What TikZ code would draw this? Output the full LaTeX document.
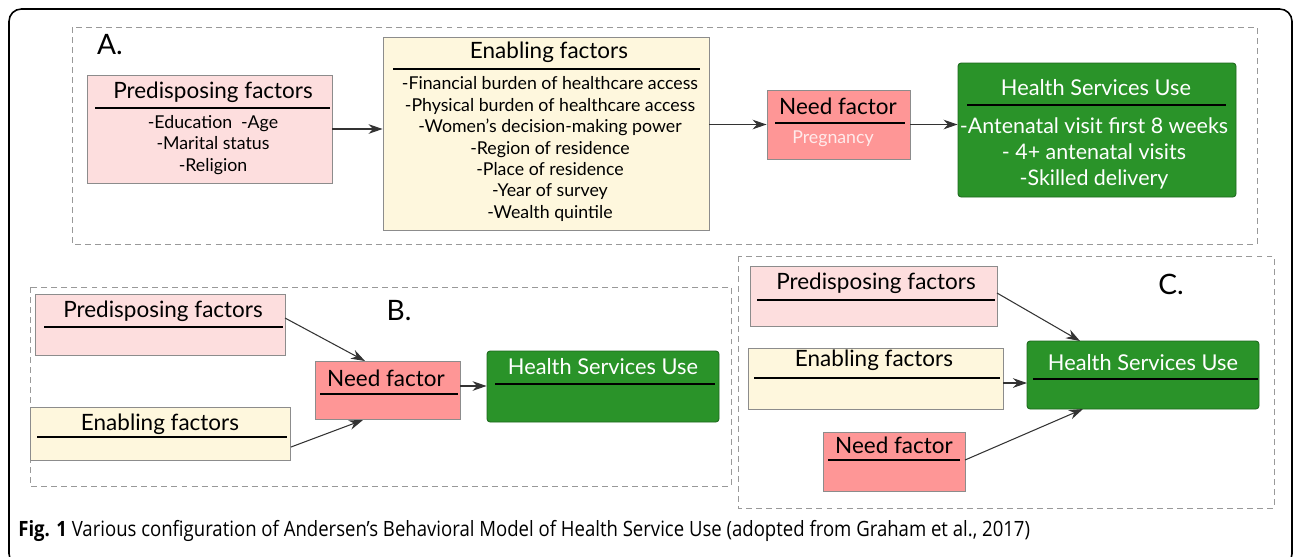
\documentclass[tikz,border=0pt]{standalone}
\usepackage{fontspec}
\setmainfont{Lato}
\newfontfamily\capfont[FakeStretch=0.88]{Open Sans}
\usetikzlibrary{arrows.meta,fit}

\definecolor{predpink}{HTML}{FDDEDE}
\definecolor{enabcream}{HTML}{FEF7DD}
\definecolor{needred}{HTML}{FE9696}
\definecolor{hsugreen}{HTML}{2A9329}
\definecolor{boxgray}{HTML}{8C8C8C}

\begin{document}
\begin{tikzpicture}[x=0.02cm, y=-0.02cm,
                    frame/.style = {draw = black, line width = 0.9pt, rounded corners = 7pt},
                    panel/.style = {draw = black!40, line width = 0.5pt, dash pattern = on 3.4pt off 2.3pt},
                    box/.style = {draw = boxgray, line width = 0.5pt, inner sep = 0pt},
                    pred/.style = {box, fill = predpink},
                    enab/.style = {box, fill = enabcream},
                    need/.style = {box, fill = needred},
                    hsu/.style = {box, draw = hsugreen!70!black, fill = hsugreen, rounded corners = 1.8pt},
                    title/.style = {font = \fontsize{12.8}{15}\selectfont, inner sep = 0pt},
                    hsutitle/.style = {title, text = white, font = \fontsize{12.4}{15}\selectfont},
                    items/.style = {font = \fontsize{10.1}{12.2}\selectfont, align = center, inner sep = 0pt},
                    bar/.style = {draw = black, line width = 0.8pt},
                    flow/.style = {draw = black!80, line width = 0.6pt, -{Stealth[length = 8pt, width = 5.5pt]}},
                    tag/.style = {font = \fontsize{16}{18}\selectfont, inner sep = 0pt}]
  \useasboundingbox (0,0) rectangle (1296,556);
  \draw [frame] (9,9) rectangle (1292,566);

  % A.
  \draw [panel] (72,27) rectangle (1257,244);
  \node [tag] (tagA) at (110,45) {A.};
  \node [pred, fit = {(87,75) (332,183)}] (pA) {};
  \node [enab, fit = {(383,37) (709,230)}] (eA) {};
  \node [need, fit = {(767,90) (910,159)}] (nA) {};
  \node [hsu, fit = {(958,63) (1236,197)}] (hA) {};
  \node [title] (pAt) at (213,92) {Predisposing factors};
  \draw [bar] (95,108) -- (330,108);
  \node [items] (pAi) at (213,145) {-Education\enspace -Age\\-Marital status\\-Religion};
  \node [title] (eAt) at (549,52) {Enabling factors};
  \draw [bar] (393,69) -- (700,69);
  \node [items] (eAi) at (550,149) {-Financial burden of healthcare access\\
    -Physical burden of healthcare access\\-Women's decision-making power\\
    -Region of residence\\-Place of residence\\-Year of survey\\-Wealth quintile};
  \node [title] (nAt) at (838,106) {Need factor};
  \draw [bar] (775,123) -- (905,123);
  \node [items, text = red!8] (nAi) at (833,139) {Pregnancy};
  \node [hsutitle] (hAt) at (1096,88) {Health Services Use};
  \draw [bar] (967,105) -- (1226,105);
  \node [items, text = white, font = \fontsize{12.2}{14.8}\selectfont] (hAi) at (1094,153) {-Antenatal visit first 8 weeks\\- 4+ antenatal visits\\-Skilled delivery};
  \draw [flow] (pA.east) -- (pA.east -| eA.west);
  \draw [flow] (eA.east |- nA.west) -- (nA.west);
  \draw [flow] (nA.east) -- (nA.east -| hA.west);

  % B.
  \draw [panel] (30,287) rectangle (731,486);
  \node [tag] (tagB) at (399,311) {B.};
  \node [pred, fit = {(35,294) (285,355)}] (pB) {};
  \node [enab, fit = {(30,407) (290,460)}] (eB) {};
  \node [need, fit = {(315,361) (460,419)}] (nB) {};
  \node [hsu, fit = {(487,351) (719,422)}] (hB) {};
  \node [title] (pBt) at (163,311) {Predisposing factors};
  \draw [bar] (44,327) -- (283,327);
  \node [title] (eBt) at (160,424) {Enabling factors};
  \draw [bar] (37,437) -- (287,437);
  \node [title] (nBt) at (386,378) {Need factor};
  \draw [bar] (320,394) -- (458,394);
  \node [hsutitle] (hBt) at (603,367) {Health Services Use};
  \draw [bar] (495,384) -- (715,384);
  \coordinate (pBo) at (285,318);
  \coordinate (eBo) at (291,447);
  \draw [flow] (pBo) -- (365,361);
  \draw [flow] (eBo) -- (363,420);
  \draw [flow] (nB.east |- 0,386) -- (hB.west |- 0,386);

  % C.
  \draw [panel] (738,256) rectangle (1274,508);
  \node [tag] (tagC) at (1171,284) {C.};
  \node [pred, fit = {(750,266) (997,326)}] (pC) {};
  \node [enab, fit = {(748,348) (1003,409)}] (eC) {};
  \node [need, fit = {(823,432) (965,491)}] (nC) {};
  \node [hsu, fit = {(1027,341) (1259,409)}] (hC) {};
  \node [title] (pCt) at (876,283) {Predisposing factors};
  \draw [bar] (757,300) -- (995,300);
  \node [title] (eCt) at (874,360) {Enabling factors};
  \draw [bar] (754,378) -- (1000,378);
  \node [title] (nCt) at (894,445) {Need factor};
  \draw [bar] (828,460) -- (960,460);
  \node [hsutitle] (hCt) at (1143,363) {Health Services Use};
  \draw [bar] (1033,379) -- (1258,379);
  \draw [flow] (997,293) -- (1080,341);
  \draw [flow] (1003,383) -- (1027,383);
  \draw [flow] (965,460) -- (1083,409);

  \node [anchor = west, inner sep = 0pt, font = \capfont\fontsize{12}{14}\selectfont] (cap) at (18,531)
    {\textbf{Fig. 1} Various configuration of Andersen’s Behavioral Model of Health Service Use (adopted from Graham et al., 2017)};
\end{tikzpicture}
\end{document}
